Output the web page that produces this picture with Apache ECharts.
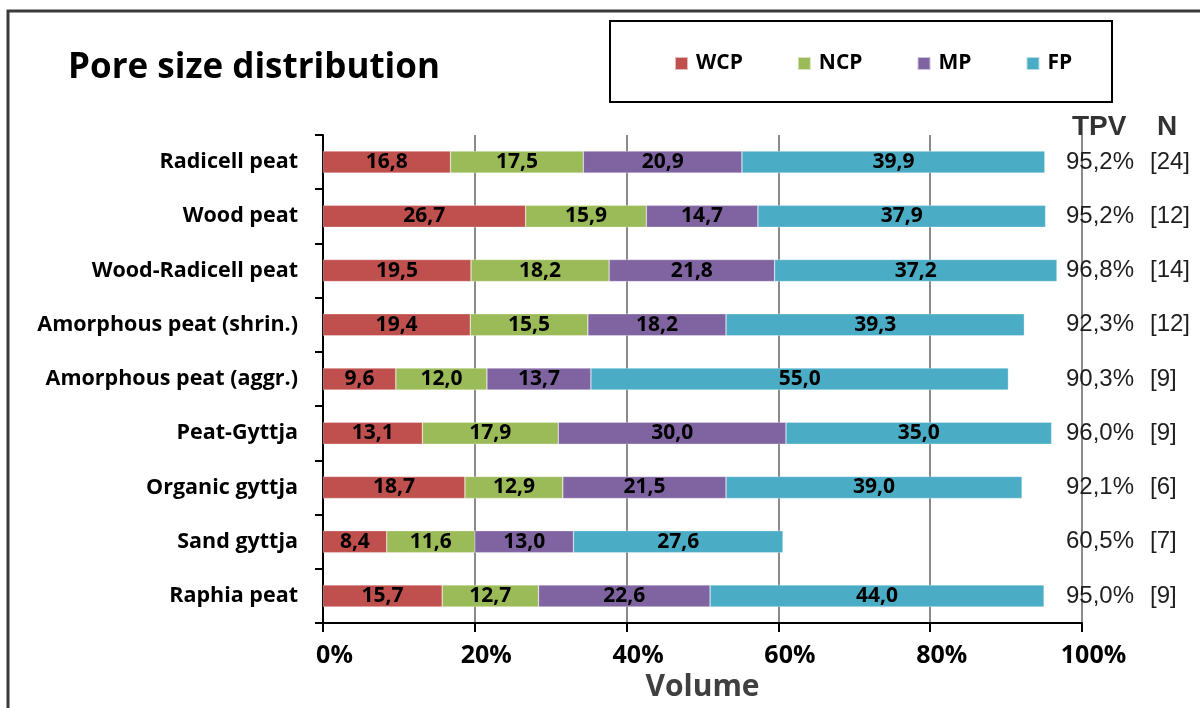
<!DOCTYPE html>
<html>
<head>
<meta charset="utf-8">
<script src="https://cdn.jsdelivr.net/npm/echarts@6/dist/echarts.min.js"></script>
<style>html,body{margin:0;padding:0;background:#fff}#c{width:1200px;height:708px}</style>
</head>
<body>
<div id="c"></div>
<script>
const categories = ['Radicell peat','Wood peat','Wood-Radicell peat','Amorphous peat (shrin.)','Amorphous peat (aggr.)','Peat-Gyttja','Organic gyttja','Sand gyttja','Raphia peat'];
const WCP = [16.8, 26.7, 19.5, 19.4, 9.6, 13.1, 18.7, 8.4, 15.7];
const NCP = [17.5, 15.9, 18.2, 15.5, 12.0, 17.9, 12.9, 11.6, 12.7];
const MP  = [20.9, 14.7, 21.8, 18.2, 13.7, 30.0, 21.5, 13.0, 22.6];
const FP  = [39.9, 37.9, 37.2, 39.3, 55.0, 35.0, 39.0, 27.6, 44.0];
const TPV = ['95,2%','95,2%','96,8%','92,3%','90,3%','96,0%','92,1%','60,5%','95,0%'];
const N   = ['[24]','[12]','[14]','[12]','[9]','[9]','[6]','[7]','[9]'];
const xTicks = [0, 20, 40, 60, 80, 100];

const FONT = 'Open Sans';
const colors = {WCP:'#C0504D', NCP:'#9BBB59', MP:'#8064A2', FP:'#4BACC6'};
const seriesData = {WCP, NCP, MP, FP};

const chart = echarts.init(document.getElementById('c'), null, {renderer:'canvas'});
const series = Object.keys(seriesData).map(name => ({
  name, type:'bar', stack:'total', barWidth:22,
  data: seriesData[name],
  itemStyle:{color:colors[name], borderColor:'rgba(255,255,255,0.6)', borderWidth:0.5},
  label:{show:true, position:'inside', color:'#000', fontFamily:FONT, fontWeight:'bold', fontSize:21,
    formatter: p => p.value.toFixed(1).replace('.', ',')},
  emphasis:{disabled:true}
}));

chart.setOption({
  animation:false,
  title:{text:'Pore size distribution', left:63, top:46,
    textStyle:{fontFamily:FONT, fontWeight:'bold', fontSize:35, color:'#000'}},
  legend:{left:669, top:48, itemWidth:13, itemHeight:13, itemGap:54, icon:'rect',
    textStyle:{fontFamily:FONT, fontWeight:'bold', fontSize:21, color:'#000', padding:[0,0,0,3]},
    data:Object.keys(seriesData), selectedMode:false},
  graphic:[
    {type:'rect', shape:{x:8, y:11, width:1210, height:720}, style:{fill:'none', stroke:'#3a3a3a', lineWidth:3}, silent:true},
    {type:'rect', shape:{x:610, y:21, width:502, height:81}, style:{fill:'none', stroke:'#000', lineWidth:2}, silent:true},
    {type:'text', x:1072, y:127, style:{text:'TPV', font:'bold 28px "Liberation Sans"', fill:'#333', verticalAlign:'middle'}},
    {type:'text', x:1157, y:127, style:{text:'N', font:'bold 28px "Liberation Sans"', fill:'#333', verticalAlign:'middle'}}
  ],
  grid:{left:323, right:118, top:135, bottom:85, containLabel:false},
  xAxis:{type:'value', min:0, max:100, interval:20,
    name:'Volume', nameLocation:'middle', nameGap:48,
    nameTextStyle:{fontFamily:FONT, fontWeight:'bold', fontSize:30, color:'#404040'},
    axisLine:{show:true, lineStyle:{color:'#000', width:2}},
    axisTick:{show:true, length:9, lineStyle:{color:'#000', width:2}},
    axisLabel:{margin:20, fontFamily:FONT, fontWeight:'bold', fontSize:25, color:'#000',
      padding:[0,0,0,23], formatter: v => v + '%'},
    splitLine:{show:true, lineStyle:{color:'#8a8a8a', width:2}}
  },
  yAxis:[
    {type:'category', data:categories, inverse:true,
      axisLine:{show:true, lineStyle:{color:'#000', width:2}},
      axisTick:{show:true, length:8, lineStyle:{color:'#000', width:2}},
      axisLabel:{margin:25, fontFamily:FONT, fontWeight:'bold', fontSize:21.5, color:'#000'}
    },
    {type:'category', data:categories, inverse:true, position:'right', offset:-16,
      axisLine:{show:false}, axisTick:{show:false},
      axisLabel:{margin:0, formatter:(v, i) => '{t|' + TPV[i] + '}{n|' + N[i] + '}',
        rich:{t:{fontFamily:'Liberation Sans', fontSize:24, color:'#1e1e1e', width:84},
              n:{fontFamily:'Liberation Sans', fontSize:24, color:'#1e1e1e'}}}
    }
  ],
  series
});
</script>
</body>
</html>
